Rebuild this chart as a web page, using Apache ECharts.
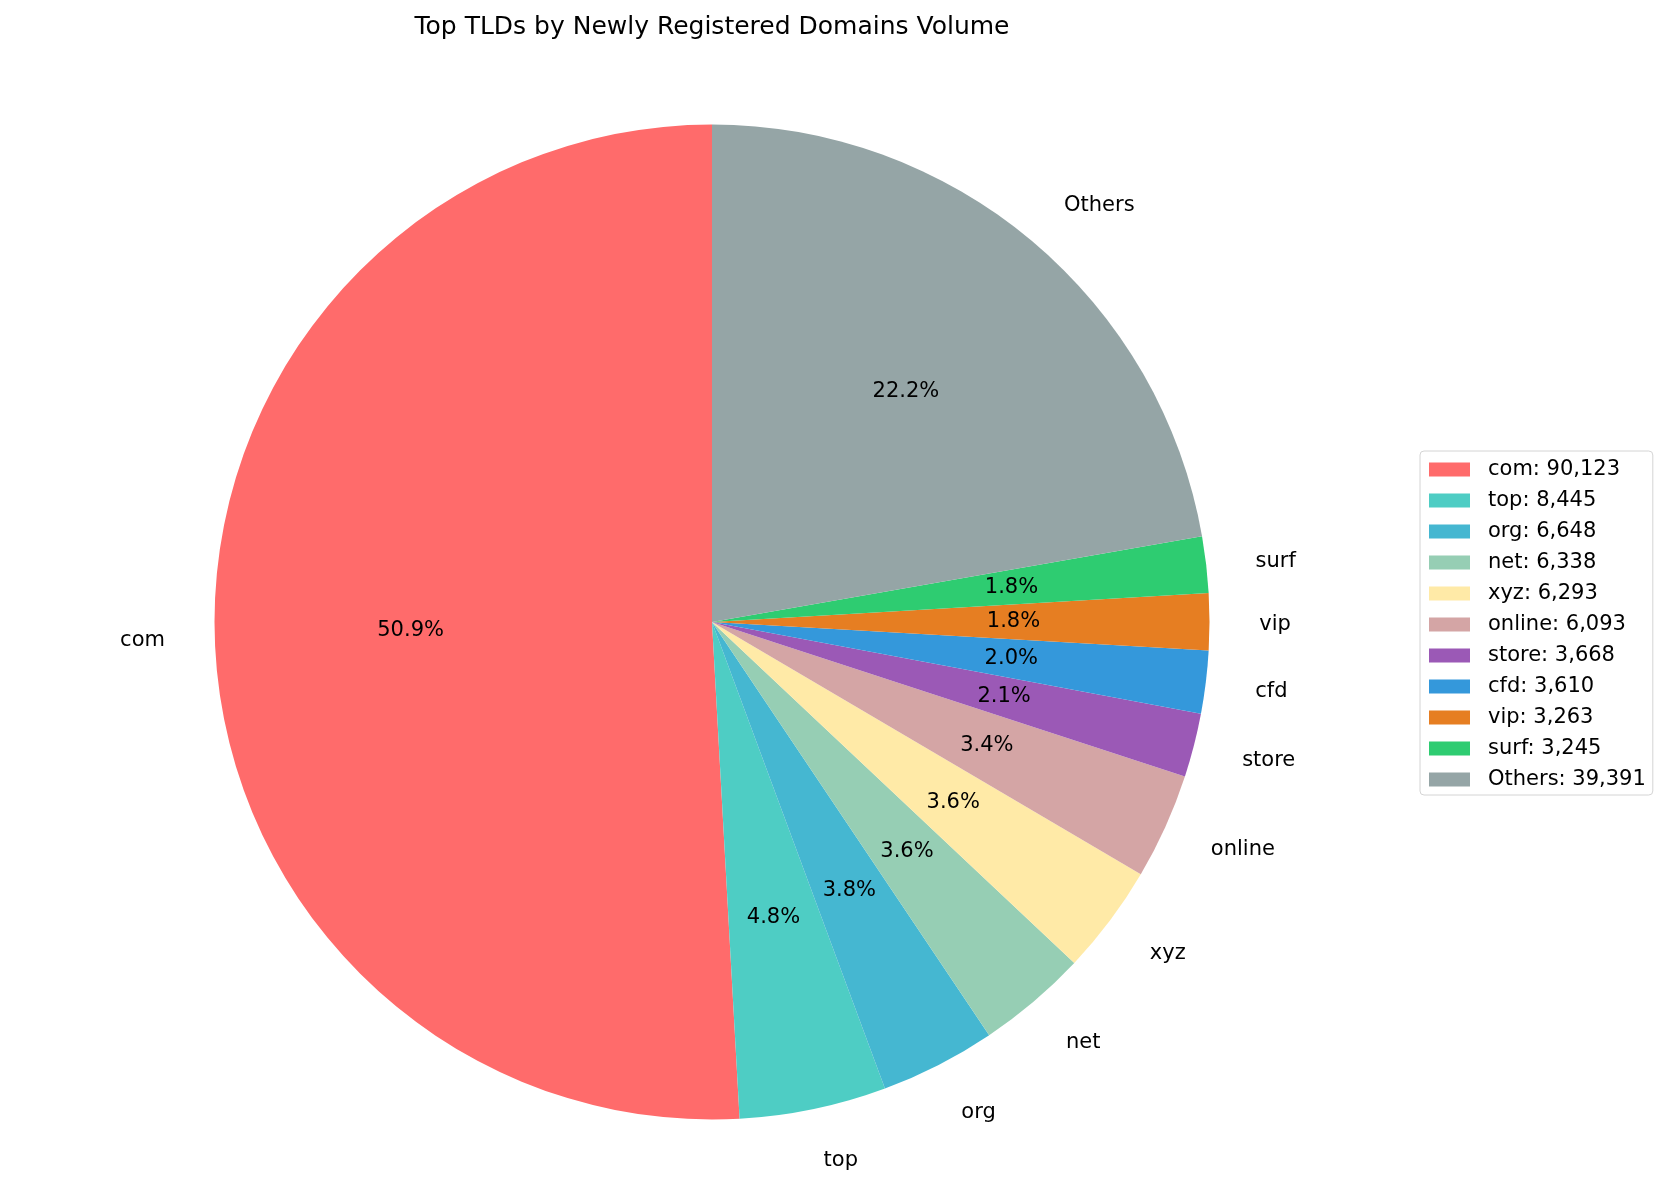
<!DOCTYPE html>
<html>
<head>
<meta charset="utf-8">
<script src="https://cdn.jsdelivr.net/npm/echarts@6/dist/echarts.min.js"></script>
<style>
  html, body { margin: 0; padding: 0; background: #fff; }
  #main { width: 1667px; height: 1185px; }
</style>
</head>
<body>
<div id="main"></div>
<script>
// TLD volumes
var tlds = ['com', 'top', 'org', 'net', 'xyz', 'online', 'store', 'cfd', 'vip', 'surf', 'Others'];
var counts = [90123, 8445, 6648, 6338, 6293, 6093, 3668, 3610, 3263, 3245, 39391];
var colors = ['#FF6B6B', '#4ECDC4', '#45B7D1', '#96CEB4', '#FFEAA7', '#D4A5A5',
              '#9B59B6', '#3498DB', '#E67E22', '#2ECC71', '#95A5A6'];

var total = counts.reduce(function (a, b) { return a + b; }, 0);
var cx = 712, cy = 622, r = 497.5;
var font = 'DejaVu Sans';

var slices = tlds.map(function (n, i) {
  return { name: n, value: counts[i], itemStyle: { color: colors[i] } };
});
var ghost = tlds.map(function (n, i) {
  return { name: n, value: counts[i], itemStyle: { color: 'rgba(0,0,0,0)' } };
});

var chart = echarts.init(document.getElementById('main'));
chart.setOption({
  animation: false,
  graphic: [{
    type: 'text', x: cx, y: 27,
    style: {
      text: 'Top TLDs by Newly Registered Domains Volume',
      fontFamily: font, fontSize: 25, fill: '#000',
      textAlign: 'center', textVerticalAlign: 'middle'
    }
  }],
  legend: {
    orient: 'vertical', left: 1420, top: 451,
    data: tlds,
    itemWidth: 41, itemHeight: 14, itemGap: 10,
    padding: [8, 7, 5, 9],
    borderColor: '#d4d4d4', borderWidth: 1, borderRadius: 4,
    icon: 'rect',
    selectedMode: false,
    textStyle: { fontFamily: font, fontSize: 21, color: '#000', padding: [0, 0, 0, 13] },
    formatter: function (name) {
      return name + ': ' + counts[tlds.indexOf(name)].toLocaleString('en-US');
    }
  },
  series: [
    {
      type: 'pie', center: [cx, cy], radius: [0, r],
      startAngle: 90, clockwise: false,
      avoidLabelOverlap: false, silent: true,
      itemStyle: { borderWidth: 0 },
      label: {
        show: true, position: 'outside', distanceToLabelLine: 0,
        fontFamily: font, fontSize: 21, color: '#000'
      },
      labelLine: { show: false, length: r * 0.1, length2: 0 },
      labelLayout: function () { return { dy: 3 }; },
      emphasis: { disabled: true },
      data: slices
    },
    {
      type: 'pie', center: [cx, cy], radius: [0, r * 1.2],
      startAngle: 90, clockwise: false,
      avoidLabelOverlap: false, silent: true, z: 3,
      label: {
        show: true, position: 'inside',
        fontFamily: font, fontSize: 21, color: '#000',
        formatter: function (p) { return (p.value / total * 100).toFixed(1) + '%'; }
      },
      labelLine: { show: false },
      emphasis: { disabled: true },
      data: ghost
    }
  ]
});
</script>
</body>
</html>
